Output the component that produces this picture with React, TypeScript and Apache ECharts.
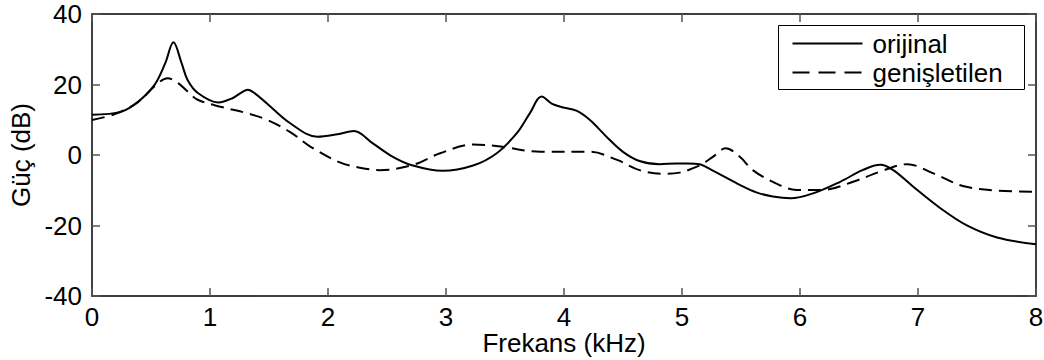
import React, { useEffect, useRef } from "react";
import * as echarts from "echarts";

const origFreq = [0, 0.25, 0.39, 0.53, 0.62, 0.69, 0.76, 0.81, 0.9, 1.07, 1.19, 1.27, 1.32, 1.38, 1.48, 1.68, 1.91, 2.08, 2.22, 2.38, 2.55, 2.72, 2.97, 3.23, 3.43, 3.6, 3.71, 3.81, 3.9, 3.97, 4.11, 4.22, 4.36, 4.5, 4.64, 4.81, 4.95, 5.05, 5.15, 5.21, 5.35, 5.49, 5.63, 5.77, 5.92, 6.11, 6.34, 6.53, 6.68, 6.79, 6.96, 7.19, 7.41, 7.67, 8];
const origPower = [11.4, 12.3, 15.1, 19.9, 26, 32, 26, 21.3, 17.5, 14.9, 16.1, 17.8, 18.5, 17.5, 14.7, 9, 5.2, 5.9, 6.8, 3.3, -0.5, -3.0, -4.5, -3.0, 0.5, 6.2, 11.8, 16.6, 14.5, 13.7, 12.5, 9.9, 5.2, 0.9, -1.7, -2.6, -2.4, -2.4, -2.6, -3.5, -6.0, -8.5, -10.6, -11.8, -12.3, -10.9, -7.6, -4.3, -2.8, -4.3, -9, -15.1, -19.9, -23.4, -25.3];

const extFreq = [0, 0.21, 0.39, 0.53, 0.64, 0.73, 0.81, 0.9, 1.09, 1.32, 1.49, 1.68, 1.85, 2.1, 2.27, 2.44, 2.72, 2.95, 3.23, 3.46, 3.8, 4.22, 4.45, 4.64, 4.82, 4.98, 5.09, 5.18, 5.27, 5.37, 5.49, 5.6, 5.77, 5.97, 6.19, 6.45, 6.68, 6.91, 7.13, 7.38, 7.67, 8];
const extPower = [9.9, 11.8, 15, 19.5, 21.8, 20.4, 18, 15.6, 13.7, 11.8, 9.9, 6.5, 2.4, -2.1, -3.6, -4.3, -2.8, 0.5, 3.0, 2.4, 0.9, 0.9, -1.4, -4.3, -5.3, -5.0, -3.8, -2.4, -0.3, 1.9, -0.5, -4.3, -7.6, -9.9, -9.9, -7.6, -4.7, -2.6, -5.2, -8.8, -10.1, -10.4];

const seriesNames = ["orijinal", "genişletilen"];
const xTitle = "Frekans (kHz)";
const yTitle = "Güç (dB)";

const FONT = "Liberation Sans, Arial, sans-serif";
const FS = 26;

export default function App() {
  const ref = useRef<HTMLDivElement>(null);
  useEffect(() => {
    if (!ref.current) return;
    const chart = echarts.init(ref.current, null, { renderer: "svg" });
    const axisLine = { show: true, onZero: false, lineStyle: { color: "#000", width: 1.5 } };
    const tick = { show: true, inside: true, length: 8, lineStyle: { color: "#555", width: 1.5 } };
    const textStyle = { fontFamily: FONT, fontSize: FS, color: "#000" };
    chart.setOption({
      animation: false,
      backgroundColor: "#fff",
      grid: { left: 92, right: 8, top: 14, bottom: 64, containLabel: false, outerBoundsMode: "none" },
      graphic: [
        {
          type: "group",
          left: 778,
          top: 25,
          children: [
            {
              type: "rect",
              shape: { x: 0, y: 0, width: 246, height: 64 },
              style: { fill: "#fff", stroke: "#000", lineWidth: 1 },
            },
            {
              type: "line",
              shape: { x1: 14, y1: 18, x2: 84, y2: 18 },
              style: { stroke: "#000", lineWidth: 2 },
            },
            {
              type: "line",
              shape: { x1: 14, y1: 47, x2: 84, y2: 47 },
              style: { stroke: "#000", lineWidth: 2, lineDash: [17, 9] },
            },
            {
              type: "text",
              x: 94,
              y: 18,
              style: { text: seriesNames[0], font: `${FS}px ${FONT}`, fill: "#000", verticalAlign: "middle" },
            },
            {
              type: "text",
              x: 94,
              y: 47,
              style: { text: seriesNames[1], font: `${FS}px ${FONT}`, fill: "#000", verticalAlign: "middle" },
            },
          ],
        },
      ],
      xAxis: [
        {
          type: "value",
          min: 0,
          max: 8,
          interval: 1,
          name: xTitle,
          nameLocation: "middle",
          nameGap: 34,
          nameMoveOverlap: false,
          nameTextStyle: { ...textStyle, lineHeight: 26, verticalAlign: "top" },
          axisLine,
          axisTick: tick,
          axisLabel: { ...textStyle, lineHeight: 20, margin: 11 },
          splitLine: { show: false },
        },
        {
          type: "value",
          position: "top",
          min: 0,
          max: 8,
          interval: 1,
          axisLine,
          axisTick: tick,
          axisLabel: { show: false },
          splitLine: { show: false },
        },
      ],
      yAxis: [
        {
          type: "value",
          min: -40,
          max: 40,
          interval: 20,
          name: yTitle,
          nameLocation: "middle",
          nameGap: 58,
          nameRotate: 90,
          nameTextStyle: textStyle,
          axisLine,
          axisTick: tick,
          axisLabel: { ...textStyle, margin: 10, padding: [4, 0, 0, 0] },
          splitLine: { show: false },
        },
        {
          type: "value",
          position: "right",
          min: -40,
          max: 40,
          interval: 20,
          axisLine,
          axisTick: tick,
          axisLabel: { show: false },
          splitLine: { show: false },
        },
      ],
      series: [
        {
          name: seriesNames[0],
          type: "line",
          data: origFreq.map((f, i) => [f, origPower[i]]),
          smooth: 0.35,
          showSymbol: false,
          symbol: "none",
          itemStyle: { color: "#000" },
          lineStyle: { color: "#000", width: 2, type: "solid" },
        },
        {
          name: seriesNames[1],
          type: "line",
          data: extFreq.map((f, i) => [f, extPower[i]]),
          smooth: 0.35,
          showSymbol: false,
          symbol: "none",
          itemStyle: { color: "#000" },
          lineStyle: { color: "#000", width: 2, type: [13, 7] },
        },
      ],
    });
    return () => chart.dispose();
  }, []);
  return (
    <div
      ref={ref}
      style={{ position: "fixed", left: 0, top: 0, width: 1044, height: 360, background: "#fff" }}
    />
  );
}
